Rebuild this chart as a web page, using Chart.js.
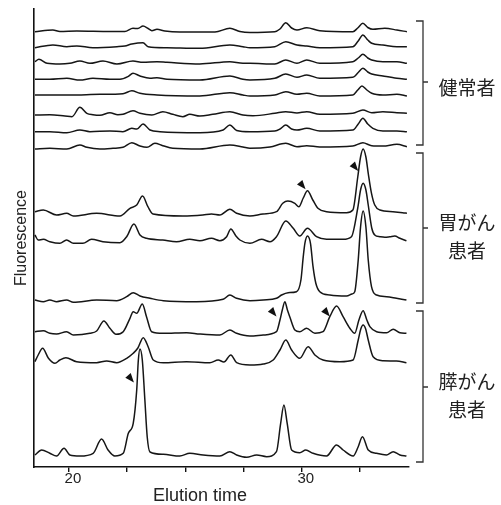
<!DOCTYPE html>
<html><head><meta charset="utf-8">
<script src="https://cdn.jsdelivr.net/npm/chart.js@4.4.1/dist/chart.umd.min.js"></script>
<style>html,body{margin:0;padding:0;background:#fff}canvas{display:block}</style>
</head><body>
<canvas id="c" width="501" height="505"></canvas>
<script>
// x tick values and labels
const xTickValues = [20, 22.5, 25, 27.5, 30, 32.5];
const xTickLabels = ['20', '', '', '', '30', ''];
const xTitle = 'Elution time';
const yTitle = 'Fluorescence';

// trace baselines (fluorescence units, top to bottom)
const offsets = [435, 419, 405, 388, 372, 351, 335, 318, 254, 229, 167, 135, 105, 12];

// healthy (健常者)
const healthy1 = [[18.54,0.3],[19.31,2],[19.61,0.5],[20.34,1],[21.76,0.5],[22.4,0.5],[22.75,3.7],[22.96,3.5],[23.18,6],[23.4,3.5],[23.56,1.3],[23.78,2.7],[24.12,1],[24.76,0],[26.27,0],[26.91,3.7],[27.34,0.5],[27.77,-0.5],[28.84,0.3],[29.06,3],[29.31,9.3],[29.56,4],[29.79,2],[30.21,4.3],[30.77,1.3],[32.19,0.3],[32.4,4],[32.62,8.7],[32.83,4.5],[33.05,2.7],[33.56,3.7],[34.08,2],[34.51,0.3]];
const healthy2 = [[18.54,0.3],[19.31,3],[19.91,1.3],[20.34,2],[21.03,0.3],[22.06,1.3],[22.4,2],[22.7,4],[23.18,5.3],[23.4,1.3],[24.21,0.3],[25.62,-0.3],[26.91,3],[27.47,1.3],[27.77,0.3],[28.84,1.3],[29.31,6.3],[29.79,3],[30.21,2],[30.77,0.3],[32.19,1.3],[32.42,7],[32.62,13],[32.83,8],[33.0,4.7],[33.48,3],[34.08,1.3],[34.51,1.3]];
const healthy3 = [[18.54,0.3],[18.71,2.7],[19.06,-1.3],[19.61,-2],[20.04,-1.3],[20.47,1],[20.9,-1.3],[21.46,1],[22.06,-2],[22.75,1],[23.18,-0.3],[23.78,0.3],[24.21,-0.3],[25.62,-2],[26.91,0.3],[27.47,-1.3],[27.77,-1.3],[28.84,-2],[29.31,2],[29.79,-1.3],[30.21,2],[30.77,-1.3],[32.19,0.3],[32.42,4],[32.62,7.7],[32.83,4],[33.0,2],[33.48,0.3],[34.08,0.3],[34.51,-1.3]];
const healthy4 = [[18.54,-0.3],[19.18,-0.3],[19.91,0.7],[20.47,-1],[21.03,0.7],[21.76,-0.3],[22.19,-0.3],[22.53,2.3],[22.75,5.7],[23.05,3],[23.48,0.7],[23.78,1.3],[24.21,-0.3],[25.62,-1],[26.91,3],[27.47,-0.3],[27.77,-1],[28.84,0.7],[29.31,5],[29.79,1.7],[30.21,4],[30.77,0.7],[32.19,1.7],[32.42,6.5],[32.62,10.7],[32.83,7],[33.0,5],[33.48,3],[34.08,0.7],[34.51,-0.3]];
const healthy5 = [[18.54,0],[20.04,0],[21.33,0.7],[22.32,1.3],[22.7,4.3],[23.05,1.7],[23.78,0],[25.62,-1],[26.91,2.3],[27.47,0],[27.77,-1],[28.84,0],[29.31,3.3],[29.79,0.7],[30.21,1.7],[30.77,-1],[32.19,0],[32.4,5],[32.58,9],[32.79,5],[33.0,1.7],[33.48,0],[34.08,0.7],[34.51,-1]];
const healthy6 = [[18.54,1],[19.18,1.3],[19.83,0],[20.13,-0.7],[20.47,8.7],[20.77,2.7],[21.03,1.3],[21.33,0.7],[21.76,3.3],[22.1,1.3],[22.32,1.7],[22.75,5.3],[23.05,2.7],[23.56,1],[24.03,4.3],[24.46,1.7],[24.89,-0.7],[25.19,1.7],[25.62,0],[26.18,1.7],[26.91,4.3],[27.47,1],[27.9,0.3],[28.84,2.7],[29.31,4.3],[29.79,3],[30.21,4.3],[30.77,1.7],[32.19,2.7],[32.62,6],[33.0,3.3],[33.48,4.3],[34.08,3.3],[34.51,2.7]];
const healthy7 = [[18.54,0.3],[19.18,0.3],[19.91,-0.7],[20.47,2],[20.9,0.3],[21.76,1],[22.32,0.3],[22.7,3.7],[22.92,3],[23.18,8],[23.48,2],[23.91,0.3],[25.62,-0.7],[26.62,2],[26.91,7],[27.2,1.5],[27.77,0.3],[28.84,1],[29.06,3],[29.31,7],[29.56,3],[29.79,2],[30.21,3.7],[30.77,1],[32.19,2],[32.42,8],[32.62,13.7],[32.83,8],[33.05,3.7],[33.48,1],[34.08,1],[34.51,0.3]];
const healthy8 = [[18.54,0],[19.18,0.7],[19.91,0],[20.47,4],[20.77,1.7],[21.33,0],[21.89,0.7],[22.32,1.7],[22.7,6.3],[23.05,3],[23.35,1.7],[23.69,5.7],[24.03,3.3],[24.46,0.7],[25.62,0],[26.91,4],[27.47,2],[27.77,0.7],[28.63,2],[29.31,5.7],[29.79,2.3],[30.21,3.3],[30.77,2],[32.19,3],[32.62,6.3],[33.0,3.3],[33.48,3],[34.08,4.7],[34.51,2.3]];

// gastric cancer (胃がん患者)
const gastric1 = [[18.54,1.3],[18.9,3],[19.47,-2],[19.9,-0.3],[20.19,-3],[21.19,-0.3],[22.19,-3],[22.62,4.7],[22.91,8],[23.16,17],[23.39,6.3],[23.61,-1],[24.89,-3],[25.75,-2],[26.12,-1],[26.48,-2],[26.91,3.7],[27.2,-0.3],[27.77,-3],[28.33,-1],[28.91,1.3],[29.18,9.7],[29.4,12],[29.7,9.7],[29.87,6.3],[30.06,15],[30.24,22.3],[30.47,13],[30.69,4.7],[31.06,1.3],[31.92,0.3],[32.19,3],[32.4,36],[32.52,56],[32.63,64],[32.75,56],[32.85,39.7],[32.99,19.7],[33.13,8],[33.35,3],[33.91,1.3],[34.33,0.3],[34.51,-0.3]];
const gastric2 = [[18.54,3],[18.68,-2],[18.9,-1.3],[19.18,-3.7],[19.61,-5.3],[19.9,-2],[20.19,-5.3],[20.6,-5.3],[20.97,-1.3],[21.46,-3.7],[22.19,-4.7],[22.48,1.3],[22.79,14],[23.05,3],[23.33,-0.3],[24.03,-2],[24.62,-3.7],[25.19,-1.3],[25.62,-2.7],[26.12,-0.3],[26.48,-2.7],[26.77,1.3],[26.95,9],[27.17,2],[27.34,-2],[27.77,-5.3],[28.27,-1.3],[28.63,-3.7],[28.91,1.3],[29.31,17],[29.63,9.7],[29.91,2],[30.24,9.7],[30.63,1.3],[31.06,-1.3],[31.77,-1.3],[32.13,1.3],[32.4,30],[32.52,48],[32.63,54.7],[32.75,48],[32.85,33],[33.0,10],[33.13,3],[33.35,1.3],[33.56,0.7],[33.78,1.3],[33.99,2],[34.21,-0.3],[34.49,-2.7]];
const gastric3 = [[18.54,0],[18.9,-1.7],[19.18,0],[19.47,-1.7],[19.9,0],[20.19,-2.3],[21.19,0],[22.05,-0.7],[22.48,3.3],[22.76,7.3],[23.05,4],[23.48,1.7],[24.05,-0.7],[25.48,-1.7],[26.62,0.7],[26.91,5],[27.2,1.7],[27.77,-0.7],[28.34,0],[28.91,1.7],[29.13,5],[29.41,7.3],[29.77,8.3],[29.96,20],[30.06,43.3],[30.13,56.7],[30.24,64],[30.37,56.7],[30.48,33.3],[30.6,16.7],[30.77,8.3],[31.2,5],[31.92,4],[32.15,6],[32.27,8.3],[32.42,40],[32.52,73],[32.63,89],[32.75,73],[32.85,40],[32.99,13.3],[33.21,5],[33.64,3.3],[34.06,1.7],[34.49,0]];

// pancreatic cancer (膵がん患者)
const pancreatic1 = [[18.54,0.3],[18.9,1.3],[19.18,-1.3],[19.47,-2],[19.9,0.3],[20.19,-3],[20.9,-1.3],[21.19,1],[21.5,11],[21.76,3.7],[22.02,-2.3],[22.33,0.3],[22.62,13.7],[22.76,20.3],[22.91,18.7],[23.15,28],[23.33,15.3],[23.55,0.3],[24.05,-1.3],[25.05,-0.7],[25.62,-2],[26.48,-3],[26.91,2],[27.2,-1.3],[27.77,-4],[28.34,-3],[28.91,0.3],[29.06,12],[29.16,22],[29.27,30.3],[29.38,22],[29.48,15.3],[29.7,2],[29.91,0.3],[30.2,3.7],[30.56,-1.3],[30.91,0.3],[31.2,15.3],[31.49,26],[31.77,15.3],[32.06,3.7],[32.27,-1.3],[32.45,12],[32.63,21.3],[32.79,12],[32.92,5.3],[33.21,0.3],[33.64,-0.7],[33.92,2.7],[34.21,-0.7],[34.49,-1.3]];
const pancreatic2 = [[18.54,0.3],[18.68,7],[18.87,13.7],[19.12,3.7],[19.4,-1.3],[19.61,2],[19.87,4.3],[20.33,0.3],[21.19,-0.7],[21.62,1],[22.05,-0.7],[22.48,3.7],[22.76,8.7],[22.96,14],[23.19,24.3],[23.4,15.3],[23.62,2],[24.05,-0.7],[25.05,0.3],[26.05,-0.7],[26.41,2],[26.65,0],[26.95,7],[27.2,-0.7],[27.77,-3],[28.34,-2],[28.77,2],[29.06,12],[29.31,22],[29.56,12],[29.91,3.7],[30.27,15.3],[30.56,7],[30.91,2],[31.63,0.3],[32.2,2],[32.42,22],[32.53,33],[32.63,37],[32.74,33],[32.85,22],[33.06,5.3],[33.49,1.3],[34.06,1],[34.49,-0.7]];
const pancreatic3 = [[18.54,0],[18.83,5],[19.18,1.7],[19.47,-1],[19.79,6.7],[20.04,0],[20.47,-1],[21.04,1.7],[21.4,16],[21.68,5],[21.97,-1],[22.33,1.7],[22.55,21.7],[22.76,31.7],[22.91,65],[22.98,95],[23.05,106],[23.15,95],[23.26,55],[23.36,18.3],[23.48,3],[24.05,0.7],[24.76,-1],[25.19,1.7],[25.76,0],[26.48,-1],[26.91,3.3],[27.2,0],[27.63,-2.3],[28.06,0],[28.49,-1.7],[28.91,3.3],[29.09,31.7],[29.23,50],[29.37,31.7],[29.56,5],[29.91,2.3],[30.17,5],[30.48,1.7],[31.06,-1],[31.49,10],[31.77,5],[32.2,-1],[32.42,8.3],[32.6,18.3],[32.85,5],[33.21,1.7],[33.63,0],[33.92,3.3],[34.21,0],[34.49,-1]];

const traces = [healthy1, healthy2, healthy3, healthy4, healthy5, healthy6, healthy7, healthy8,
                gastric1, gastric2, gastric3, pancreatic1, pancreatic2, pancreatic3];

// marked peaks (arrowhead tips, [time, fluorescence])
const markers = [[30.16, 277.7], [32.42, 296], [28.91, 150.5], [31.2, 150.5], [22.79, 84.5]];

// groups: [top, bottom, middle] in fluorescence units, and labels
const groupSpans = [[446, 322, 385], [314, 164, 239], [156, 5, 80]];
const groupLabels = [['健常者'], ['胃がん', '患者'], ['膵がん', '患者']];

const LATIN = '"Liberation Sans", Arial, sans-serif';
const CJK = '"Noto Sans CJK JP", "Noto Sans CJK SC", sans-serif';

const overlay = {
  id: 'overlay',
  afterDraw(chart) {
    const ctx = chart.ctx, xs = chart.scales.x, ys = chart.scales.y, ca = chart.chartArea;
    ctx.save();
    // x-axis title
    ctx.fillStyle = '#222';
    ctx.font = '18px ' + LATIN;
    ctx.textAlign = 'center';
    ctx.textBaseline = 'alphabetic';
    ctx.fillText(xTitle, ca.left + 166, ca.bottom + 34);
    // arrowheads
    ctx.fillStyle = '#111';
    markers.forEach(([t, v]) => {
      const px = xs.getPixelForValue(t), py = ys.getPixelForValue(v);
      ctx.beginPath();
      ctx.moveTo(px, py);
      ctx.lineTo(px - 8.6, py - 4.8);
      ctx.lineTo(px - 3.2, py - 9.4);
      ctx.closePath();
      ctx.fill();
    });
    // brackets
    ctx.strokeStyle = '#333';
    ctx.lineWidth = 1.3;
    const bx = ca.right + 14;
    groupSpans.forEach(([top, bot, mid], i) => {
      const yt = ys.getPixelForValue(top), yb = ys.getPixelForValue(bot), ym = ys.getPixelForValue(mid);
      ctx.beginPath();
      ctx.moveTo(bx - 7, yt); ctx.lineTo(bx, yt); ctx.lineTo(bx, yb); ctx.lineTo(bx - 7, yb);
      ctx.moveTo(bx, ym); ctx.lineTo(bx + 5, ym);
      ctx.stroke();
      const lines = groupLabels[i];
      ctx.fillStyle = '#222';
      ctx.font = '19px ' + CJK;
      ctx.textAlign = 'center';
      ctx.textBaseline = 'middle';
      const cx = bx + 44;
      if (lines.length === 1) {
        ctx.fillText(lines[0], cx, ym + 6);
      } else {
        lines.forEach((s, k) => ctx.fillText(s, cx, ym - 5 + k * 28));
      }
    });
    ctx.restore();
  }
};

new Chart(document.getElementById('c'), {
  type: 'line',
  data: {
    datasets: traces.map((tr, i) => ({
      data: tr.map(([t, s]) => ({ x: t, y: offsets[i] + s })),
      borderColor: '#161616',
      borderWidth: 1.5,
      pointRadius: 0,
      fill: false,
      cubicInterpolationMode: 'monotone'
    }))
  },
  options: {
    responsive: false,
    animation: false,
    devicePixelRatio: 1,
    layout: { padding: { top: 9, right: 92, left: 0, bottom: 0 } },
    plugins: { legend: { display: false }, tooltip: { enabled: false } },
    scales: {
      x: {
        type: 'linear',
        min: 18.5, max: 34.6,
        afterBuildTicks: s => { s.ticks = xTickValues.map(v => ({ value: v })); },
        afterFit: s => { s.height = 38; },
        ticks: {
          autoSkip: false, maxRotation: 0, padding: -2, labelOffset: 4,
          color: '#222', font: { family: LATIN, size: 15 },
          callback: v => { const k = xTickValues.indexOf(v); return k >= 0 ? xTickLabels[k] : ''; }
        },
        grid: { display: true, drawOnChartArea: false, drawTicks: true, tickLength: 5, color: '#111', lineWidth: 1.4 },
        border: { display: true, color: '#111', width: 1.6 },
        title: { display: false }
      },
      y: {
        type: 'linear',
        min: 0, max: 458,
        afterFit: s => { s.width = 34; },
        ticks: { display: false },
        grid: { display: false },
        border: { display: true, color: '#111', width: 1.6 },
        title: { display: true, text: yTitle, color: '#222', font: { family: LATIN, size: 16 }, padding: { top: 12, bottom: 0 } }
      }
    }
  },
  plugins: [overlay]
});
</script>
</body></html>
